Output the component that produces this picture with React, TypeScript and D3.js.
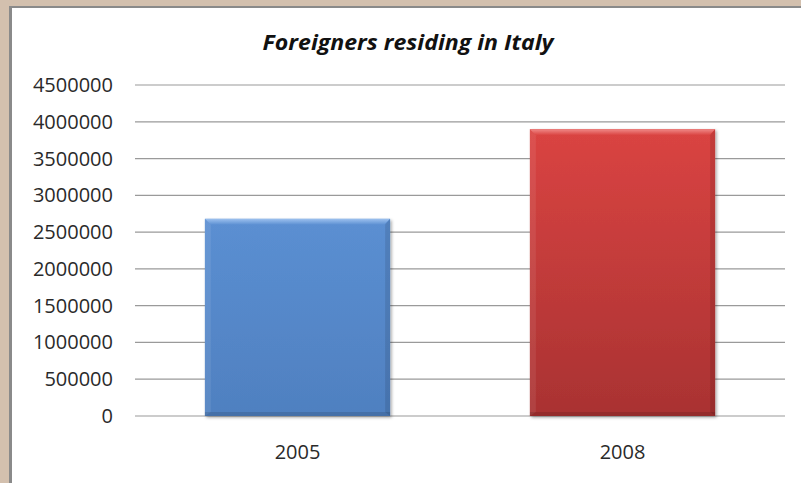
import React from "react";
import * as d3 from "d3";

const categories = ["2005", "2008"];
const values = [2680000, 3900000];
const yTicks = [0, 500000, 1000000, 1500000, 2000000, 2500000, 3000000, 3500000, 4000000, 4500000];
const title = "Foreigners residing in Italy";

const W = 801;
const H = 483;

export default function App() {
  const x = d3.scaleBand<string>().domain(categories).range([135, 785]).paddingInner(0.43).paddingOuter(0.215);
  const y = d3.scaleLinear().domain([0, 4500000]).range([416, 85]);
  const fills = ["url(#gBlue)", "url(#gRed)"];
  const tops = ["url(#tBlue)", "url(#tRed)"];
  const font = "'Open Sans', 'Liberation Sans', sans-serif";
  return (
    <svg width={W} height={H} style={{ position: "absolute", left: 0, top: 0 }} xmlns="http://www.w3.org/2000/svg">
      <defs>
        <linearGradient id="gBlue" x1="0" y1="0" x2="0" y2="1">
          <stop offset="0" stopColor="#5b8fd2" />
          <stop offset="1" stopColor="#4f80c0" />
        </linearGradient>
        <linearGradient id="gRed" x1="0" y1="0" x2="0" y2="1">
          <stop offset="0" stopColor="#da4442" />
          <stop offset="1" stopColor="#a93232" />
        </linearGradient>
        <linearGradient id="tBlue" x1="0" y1="0" x2="0" y2="1">
          <stop offset="0" stopColor="#9cc0ee" />
          <stop offset="1" stopColor="#5b8fd2" />
        </linearGradient>
        <linearGradient id="tRed" x1="0" y1="0" x2="0" y2="1">
          <stop offset="0" stopColor="#f08a88" />
          <stop offset="1" stopColor="#da4442" />
        </linearGradient>
        <filter id="shadow" x="-10%" y="-10%" width="120%" height="120%">
          <feDropShadow dx="1.5" dy="1.5" stdDeviation="1.5" floodColor="#000" floodOpacity="0.35" />
        </filter>
      </defs>
      <rect x={0} y={0} width={W} height={H} fill="#d3c0ae" />
      <rect x={9} y={6} width={W} height={H} fill="#8a8a8a" />
      <rect x={12} y={8} width={W} height={H} fill="#ffffff" />
      <text
        x={408}
        y={50}
        textAnchor="middle"
        fontFamily={font}
        fontWeight="bold"
        fontStyle="italic"
        fontSize={22}
        fill="#111"
        textLength={291}
        lengthAdjust="spacingAndGlyphs"
      >
        {title}
      </text>
      {yTicks.map((t) => (
        <g key={t}>
          <line x1={135} x2={785} y1={y(t)} y2={y(t)} stroke="#9a9a9a" strokeWidth={1.2} />
          <text x={113} y={y(t) + 7} textAnchor="end" fontFamily={font} fontSize={20} fill="#2a2a2a">
            {t}
          </text>
        </g>
      ))}
      {categories.map((c, i) => {
        const bx = x(c)!;
        const bw = x.bandwidth();
        const by = y(values[i]);
        const bh = y(0) - by;
        return (
          <g key={c}>
            <rect x={bx} y={by} width={bw} height={bh} fill={fills[i]} filter="url(#shadow)" />
            <polygon
              points={`${bx},${by} ${bx + bw},${by} ${bx + bw - 6},${by + 6} ${bx + 6},${by + 6}`}
              fill={tops[i]}
            />
            <polygon
              points={`${bx},${by} ${bx + 6},${by + 6} ${bx + 6},${by + bh - 4} ${bx},${by + bh}`}
              fill="#ffffff"
              opacity={0.08}
            />
            <polygon
              points={`${bx + bw},${by} ${bx + bw - 5},${by + 6} ${bx + bw - 5},${by + bh - 4} ${bx + bw},${by + bh}`}
              fill="#000"
              opacity={0.1}
            />
            <rect x={bx} y={by + bh - 4} width={bw} height={4} fill="#000" opacity={0.12} />
            <text x={bx + bw / 2} y={459} textAnchor="middle" fontFamily={font} fontSize={20} fill="#2a2a2a">
              {c}
            </text>
          </g>
        );
      })}
    </svg>
  );
}
